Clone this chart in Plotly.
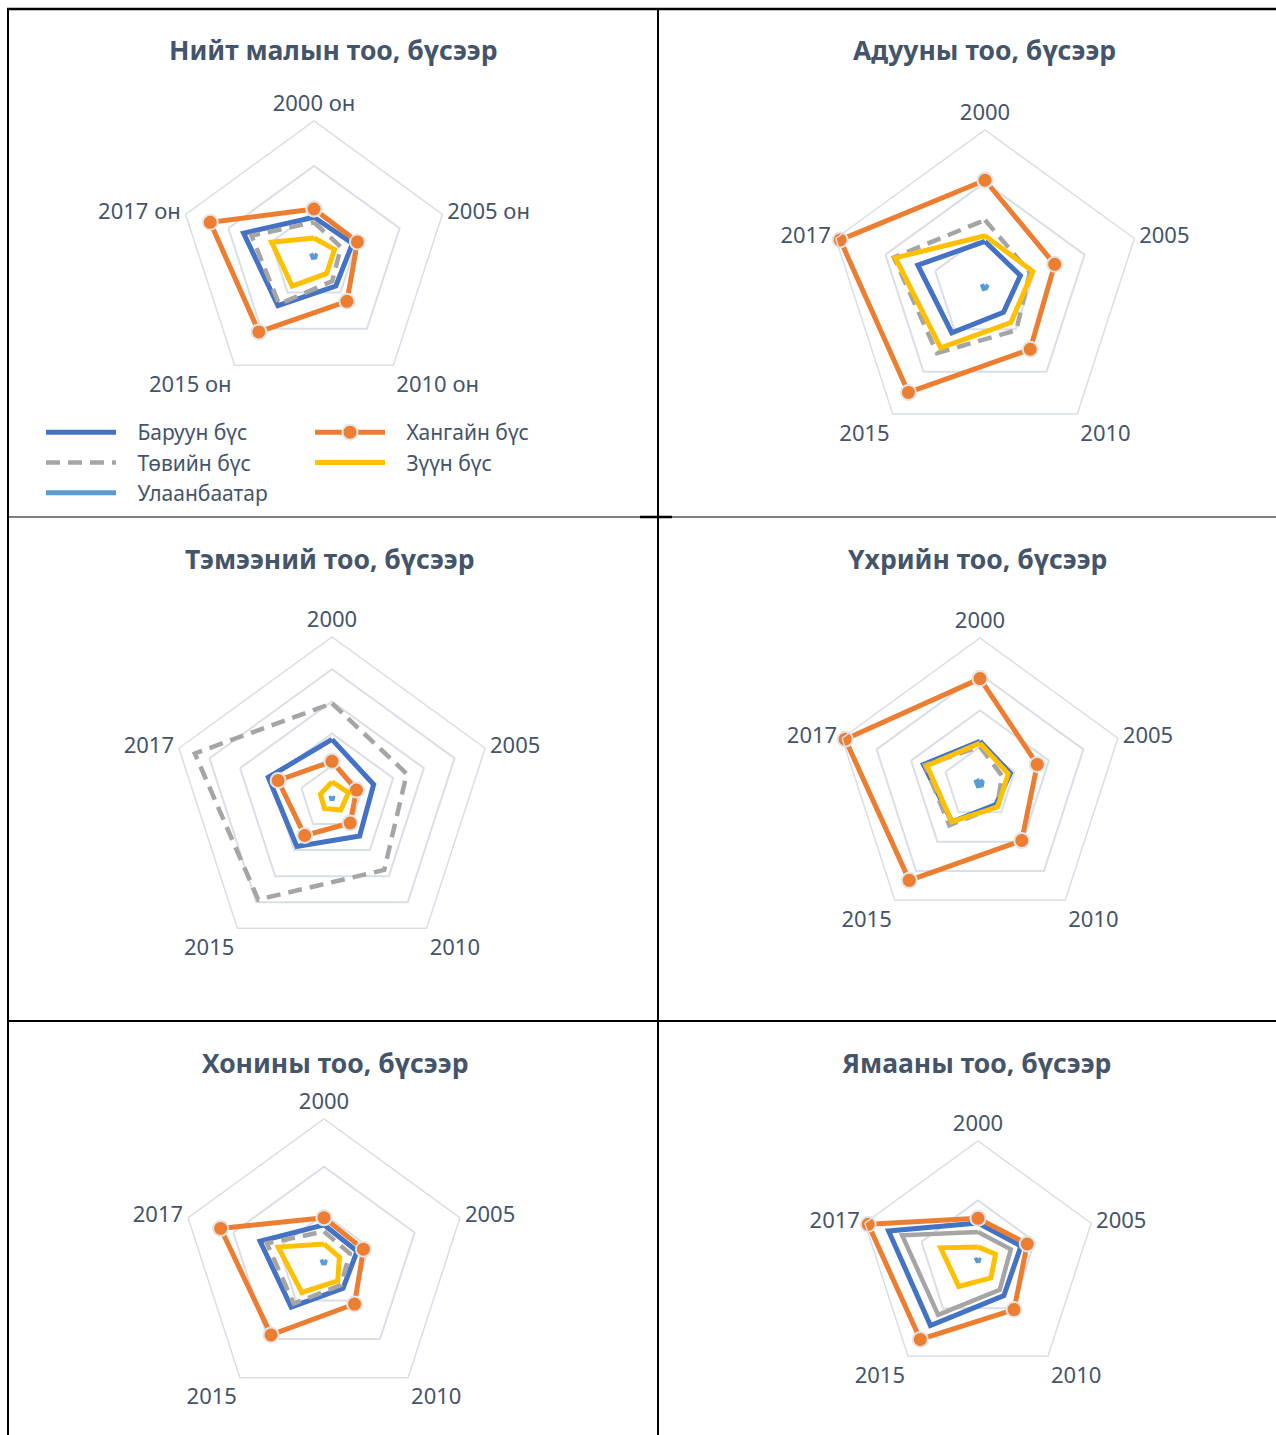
import plotly.graph_objects as go

W, H = 1276, 1435

years = ['2000', '2005', '2010', '2015', '2017']
years_on = ['2000 он', '2005 он', '2010 он', '2015 он', '2017 он']

regions = ['Баруун бүс', 'Хангайн бүс', 'Төвийн бүс', 'Зүүн бүс', 'Улаанбаатар']

# мянган толгой
total_baruun = [8600, 9000, 8250, 13650, 16450]
total_khangai = [10450, 10150, 12450, 20850, 24250]
total_tuv = [7500, 6300, 6900, 13200, 14600]
total_zuun = [4000, 4800, 4800, 8250, 9900]
total_ub = [300, 320, 330, 380, 400]

horse_baruun = [435, 355, 300, 540, 675]
horse_khangai = [1020, 700, 735, 1245, 1455]
horse_tuv = [640, 450, 510, 780, 915]
horse_zuun = [490, 480, 420, 720, 900]
horse_ub = [15, 14, 12, 18, 20]

camel_baruun = [91, 68, 73, 93, 104]
camel_khangai = [57, 40, 48, 72, 88]
camel_tuv = [147, 122, 138, 195, 224]
camel_zuun = [25, 27, 23, 20, 19]
camel_ub = [1, 1, 1, 1, 1]

cattle_baruun = [575, 440, 370, 660, 820]
cattle_khangai = [1440, 830, 980, 1660, 1955]
cattle_tuv = [500, 320, 400, 720, 800]
cattle_zuun = [550, 410, 410, 660, 770]
cattle_ub = [40, 30, 35, 45, 50]

sheep_baruun = [3900, 3650, 3400, 5850, 7050]
sheep_khangai = [4650, 4350, 5450, 9450, 11400]
sheep_tuv = [3200, 2850, 3000, 5400, 6300]
sheep_zuun = [1900, 1700, 2450, 3950, 5050]
sheep_ub = [100, 110, 120, 130, 140]

goat_baruun = [3100, 3800, 3700, 6800, 7900]
goat_khangai = [3500, 4350, 5150, 8250, 9700]
goat_tuv = [2350, 2900, 3100, 5700, 6700]
goat_zuun = [1100, 1550, 1850, 2750, 3300]
goat_ub = [50, 60, 60, 70, 80]

colors = ['#4472C4', '#ED7D31', '#A5A5A5', '#FFC000', '#5B9BD5']
txt = '#44546A'
grid = '#D9DEE7'
FONT = 'Noto Sans'

charts = [
    # title, labels, series, max, step, centre x, centre y, radius, gray dashed
    ('Нийт малын тоо, бүсээр', years_on,
     [total_baruun, total_khangai, total_tuv, total_zuun, total_ub], 30000, 10000, 314, 256, 135, True),
    ('Адууны тоо, бүсээр', years,
     [horse_baruun, horse_khangai, horse_tuv, horse_zuun, horse_ub], 1500, 500, 985, 287, 157, True),
    ('Тэмээний тоо, бүсээр', years,
     [camel_baruun, camel_khangai, camel_tuv, camel_zuun, camel_ub], 250, 50, 332, 798, 161, True),
    ('Үхрийн тоо, бүсээр', years,
     [cattle_baruun, cattle_khangai, cattle_tuv, cattle_zuun, cattle_ub], 2000, 500, 980, 783, 145, True),
    ('Хонины тоо, бүсээр', years,
     [sheep_baruun, sheep_khangai, sheep_tuv, sheep_zuun, sheep_ub], 15000, 5000, 324, 1262, 143, True),
    ('Ямааны тоо, бүсээр', years,
     [goat_baruun, goat_khangai, goat_tuv, goat_zuun, goat_ub], 10000, 5000, 978, 1260, 119, False),
]
title_pos = [(333, 50), (984, 50), (330, 559), (978, 559), (335, 1063), (976, 1063)]

fig = go.Figure()
annotations = []
pad = '\u00a0\u00a0\u00a0'

for i, (title, labels, series, vmax, step, cx, cy, R, dashed) in enumerate(charts):
    pid = 'polar' if i == 0 else 'polar%d' % (i + 1)
    for j, vals in enumerate(series):
        r = list(vals) + [vals[0]]
        th = list(labels) + [labels[0]]
        dash = 'solid'
        if j == 2 and dashed:
            dash = '14px,8px'
        mode = 'lines+markers' if j == 1 else 'lines'
        fig.add_trace(go.Scatterpolar(
            r=r, theta=th, mode=mode, name=pad + regions[j], subplot=pid,
            line=dict(color=colors[j], width=5 if j != 2 else 4.5, dash=dash),
            marker=dict(size=15, color=colors[1], line=dict(color='#E4E4E4', width=2)),
            legend='legend' if j in (0, 2, 4) else 'legend2',
            showlegend=(i == 0), hoverinfo='skip'))

    fig.update_layout(**{pid: dict(
        domain=dict(x=[(cx - R) / W, (cx + R) / W], y=[1 - (cy + R) / H, 1 - (cy - R) / H]),
        bgcolor='white',
        gridshape='linear',
        radialaxis=dict(range=[0, vmax], dtick=step, showticklabels=False, ticks='',
                        showline=False, showgrid=True, gridcolor=grid, gridwidth=1.5),
        angularaxis=dict(rotation=90, direction='clockwise', showgrid=False, ticks='',
                         showline=True, linecolor=grid, linewidth=1.5,
                         tickfont=dict(family=FONT, size=22, color=txt)),
    )})
    tx, ty = title_pos[i]
    annotations.append(dict(text='<b>%s</b>' % title, x=tx / W, y=1 - ty / H, xref='paper', yref='paper',
                            xanchor='center', yanchor='middle', showarrow=False,
                            font=dict(family=FONT, size=26.5, color=txt)))

# table border lines
def hline(y, x0, x1, w):
    return dict(type='line', xref='paper', yref='paper', x0=x0 / W, x1=x1 / W, y0=1 - y / H, y1=1 - y / H,
                line=dict(color='black', width=w))

def vline(x, y0, y1, w):
    return dict(type='line', xref='paper', yref='paper', x0=x / W, x1=x / W, y0=1 - y0 / H, y1=1 - y1 / H,
                line=dict(color='black', width=w))

shapes = [
    hline(9, 7, W, 2.5),
    vline(8, 8, H, 2),
    vline(658, 8, H, 2),
    hline(517, 8, W, 1.2),
    hline(517, 640, 672, 2.5),
    hline(1021, 8, W, 2),
]

leg_font = dict(family=FONT, size=21, color=txt)
fig.update_layout(
    width=W, height=H, margin=dict(l=0, r=0, t=0, b=0),
    paper_bgcolor='white', plot_bgcolor='white',
    font=dict(family=FONT, color=txt),
    annotations=annotations, shapes=shapes,
    legend=dict(orientation='v', x=41 / W, y=1 - 412 / H, xanchor='left', yanchor='top',
                itemwidth=70, font=leg_font, bgcolor='rgba(0,0,0,0)', tracegroupgap=0),
    legend2=dict(orientation='v', x=310 / W, y=1 - 412 / H, xanchor='left', yanchor='top',
                 itemwidth=70, font=leg_font, bgcolor='rgba(0,0,0,0)', tracegroupgap=0),
)

fig.write_html("out.html", config={'displayModeBar': False},
               post_script="document.body.style.margin='0px';")
